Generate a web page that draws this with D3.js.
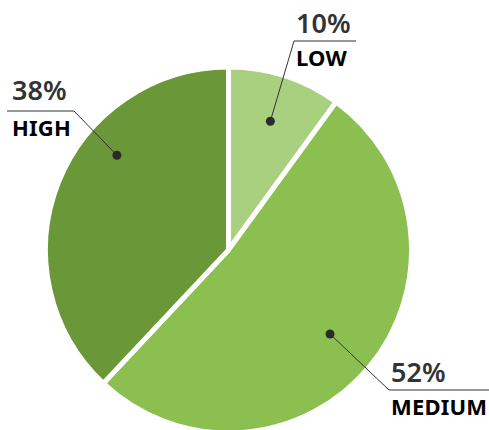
<!DOCTYPE html>
<html>
<head>
<meta charset="utf-8">
<script src="https://cdn.jsdelivr.net/npm/d3@7/dist/d3.min.js"></script>
<style>
  html, body { margin: 0; padding: 0; background: #fff; }
  svg { display: block; }
</style>
</head>
<body>
<svg id="chart" width="489" height="430"></svg>
<script>
// Share of responses by level
const categories = ["LOW", "MEDIUM", "HIGH"];
const values = [10, 52, 38];
const percentLabels = ["10%", "52%", "38%"];

const colors = ["#a8d07f", "#8bbf50", "#6a9737"];

// Callout layout: where the dot sits inside the slice (fraction of the slice's
// angular span, fraction of the radius), the leader's elbow, the end of the
// underline, and the text origin.
const callouts = [
  { at: 0.5,  rf: 0.74, elbow: [294, 41],  end: [356, 41],  tx: 296, pctY: 33,  nameY: 66 },
  { at: 0.5,  rf: 0.72, elbow: [389, 390], end: [489, 390], tx: 391, pctY: 382, nameY: 415 },
  { at: 0.637, rf: 0.80, elbow: [74, 111],  end: [7, 111],   tx: 12,  pctY: 100, nameY: 136 }
];

const svg = d3.select("#chart");
const cx = 228.5, cy = 250, R = 183;

const pie = d3.pie().sort(null).value(d => d).startAngle(0).endAngle(2 * Math.PI);
const arcs = pie(values);
const arc = d3.arc().innerRadius(0).outerRadius(R);

const g = svg.append("g").attr("transform", `translate(${cx},${cy})`);

g.selectAll("path.slice")
  .data(arcs)
  .join("path")
  .attr("class", "slice")
  .attr("d", arc)
  .attr("fill", (d, i) => colors[i])
  .attr("stroke", "#fff")
  .attr("stroke-width", 5)
  .attr("stroke-linejoin", "miter");

// Dot position for each slice
function dotPos(d, i) {
  const c = callouts[i];
  const a = d.startAngle + (d.endAngle - d.startAngle) * c.at;
  const r = R * c.rf;
  return [cx + r * Math.sin(a), cy - r * Math.cos(a)];
}

const labels = svg.append("g");

arcs.forEach((d, i) => {
  const c = callouts[i];
  const p = dotPos(d, i);
  labels.append("polyline")
    .attr("points", [p, c.elbow, c.end].map(q => q.join(",")).join(" "))
    .attr("fill", "none")
    .attr("stroke", "#333")
    .attr("stroke-width", 1);
  labels.append("circle")
    .attr("cx", p[0]).attr("cy", p[1]).attr("r", 4.5)
    .attr("fill", "#2b2b2b");
  labels.append("text")
    .attr("x", c.tx).attr("y", c.pctY)
    .attr("font-family", "'Noto Sans', sans-serif")
    .attr("font-size", 27)
    .attr("font-weight", 600)
    .attr("fill", "#333")
    .text(percentLabels[i]);
  labels.append("text")
    .attr("x", c.tx).attr("y", c.nameY)
    .attr("font-family", "'Noto Sans', sans-serif")
    .attr("font-size", 22)
    .attr("font-weight", 700)
    .attr("letter-spacing", 0.2)
    .attr("fill", "#000")
    .text(categories[i]);
});
</script>
</body>
</html>
